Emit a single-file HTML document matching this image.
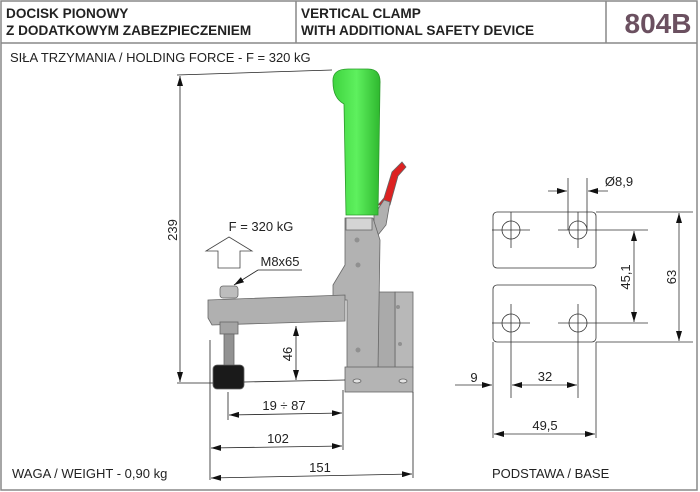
<!DOCTYPE html>
<html><head><meta charset="utf-8"><style>
body{margin:0;background:#fff;}
svg{display:block;font-family:"Liberation Sans",sans-serif;}
</style></head><body>
<svg width="700" height="492" viewBox="0 0 700 492">
<defs>
<marker id="a" viewBox="0 0 10 6" refX="10" refY="3" markerWidth="10" markerHeight="6" orient="auto-start-reverse" markerUnits="userSpaceOnUse"><path d="M0,0 L10,3 L0,6 Z" fill="#111"/></marker>
<linearGradient id="g" x1="0" x2="1"><stop offset="0" stop-color="#3fd43f"/><stop offset="0.5" stop-color="#5ef05e"/><stop offset="1" stop-color="#2fb82f"/></linearGradient>
</defs>
<rect x="1" y="1" width="696" height="489" fill="none" stroke="#888" stroke-width="1.5"/>
<line x1="1" y1="43" x2="697" y2="43" stroke="#888" stroke-width="1.5"/>
<line x1="296" y1="1" x2="296" y2="43" stroke="#888" stroke-width="1.5"/>
<line x1="606" y1="1" x2="606" y2="43" stroke="#888" stroke-width="1.5"/>
<g font-weight="bold" font-size="13.6" fill="#222">
<text x="6" y="18">DOCISK PIONOWY</text>
<text x="6" y="35">Z DODATKOWYM ZABEZPIECZENIEM</text>
<text x="301" y="18">VERTICAL CLAMP</text>
<text x="301" y="35">WITH ADDITIONAL SAFETY DEVICE</text>
</g>
<text x="658" y="33" font-size="28" font-weight="bold" fill="#6b5060" text-anchor="middle">804B</text>
<g font-size="13" fill="#222">
<text x="10" y="62">SIŁA TRZYMANIA / HOLDING FORCE - F = 320 kG</text>
<text x="12" y="478">WAGA / WEIGHT - 0,90 kg</text>
<text x="492" y="478">PODSTAWA / BASE</text>
</g>

<!-- clamp -->
<g stroke="#666" stroke-width="0.8">
<path d="M378,205 L384,198 L392,172 L402,162 L406,167 L398,176 L390,205 Z" fill="#d22"/>
<path d="M374,215 L384,200 L390,202 L386,225 L374,240 Z" fill="#b0b0b0"/>
<rect x="395" y="292" width="18" height="76" fill="#b8b8b8"/>
<path d="M378,292 L395,292 L395,368 L378,368Z" fill="#aaa"/>
<path d="M345,218 L373,218 L380,240 L378,368 L347,368 L347,300 L333,300 L333,285 L345,265 Z" fill="#b2b2b2"/>
<rect x="346" y="218" width="26" height="12" fill="#d4d4d4"/>
<rect x="345" y="367" width="68" height="25" fill="#b4b4b4"/>
<ellipse cx="357" cy="381" rx="4" ry="2" fill="#e4e4e4"/>
<ellipse cx="403" cy="381" rx="4" ry="2" fill="#e4e4e4"/>
<path d="M208,300 L345,295 L345,321 L212,325 L208,318 Z" fill="#b0b0b0"/>
<rect x="220" y="286" width="18" height="12" rx="3" fill="#bdbdbd"/>
<rect x="220" y="322" width="18" height="12" fill="#a4a4a4"/>
<rect x="224" y="334" width="10" height="32" fill="#929292"/>
<rect x="213" y="365" width="31" height="24" rx="4" fill="#1a1a1a"/>
<path d="M333,82 Q332,69 348,69 L368,69 Q381,69 380,84 L378,215 L346,215 L344,104 Q333,98 333,82 Z" fill="url(#g)" stroke="#2a9a2a"/>
</g>
<g fill="#909090"><circle cx="357" cy="240" r="2.5"/><circle cx="358" cy="265" r="2.5"/><circle cx="358" cy="350" r="2.5"/><circle cx="398" cy="307" r="2"/><circle cx="400" cy="344" r="2"/></g>

<!-- dims -->
<g stroke="#222" stroke-width="0.8" fill="none">
<line x1="177" y1="75" x2="332" y2="70"/>
<line x1="177" y1="383" x2="213" y2="383"/>
<line x1="180" y1="76" x2="180" y2="382" marker-start="url(#a)" marker-end="url(#a)"/>
<line x1="244" y1="382" x2="345" y2="380"/>
<line x1="296" y1="326" x2="296" y2="380" marker-start="url(#a)" marker-end="url(#a)"/>
<line x1="210" y1="340" x2="210" y2="480"/>
<line x1="228" y1="392" x2="228" y2="420"/>
<line x1="343" y1="390" x2="343" y2="450"/>
<line x1="413" y1="392" x2="413" y2="478"/>
<line x1="229" y1="415" x2="342" y2="413" marker-start="url(#a)" marker-end="url(#a)"/>
<line x1="211" y1="448" x2="342" y2="446" marker-start="url(#a)" marker-end="url(#a)"/>
<line x1="211" y1="478" x2="412" y2="474" marker-start="url(#a)" marker-end="url(#a)"/>
<path d="M218,268 L240,268 L240,251 L252,251 L229,237 L206,251 L218,251 Z" stroke="#444"/>
<line x1="258" y1="270" x2="302" y2="270"/>
<line x1="258" y1="270" x2="234" y2="285" marker-end="url(#a)"/>
</g>
<g font-size="13" fill="#222" text-anchor="middle">
<text transform="translate(177,230) rotate(-90)">239</text>
<text transform="translate(292,354) rotate(-90)">46</text>
<text x="284" y="410">19 ÷ 87</text>
<text x="278" y="443">102</text>
<text x="320" y="472">151</text>
<text x="261" y="231">F = 320 kG</text>
<text x="280" y="266">M8x65</text>
</g>

<!-- base -->
<g stroke="#333" stroke-width="0.8" fill="none">
<rect x="493" y="212" width="103" height="56" rx="4"/>
<rect x="493" y="285" width="103" height="57" rx="4"/>
<circle cx="511" cy="230" r="9"/><circle cx="578" cy="230" r="9"/>
<circle cx="511" cy="323" r="9"/><circle cx="578" cy="323" r="9"/>
<path d="M492,230 H530 M558,230 H648 M511,212 V248 M578,212 V248 M492,323 H530 M558,323 H648 M511,304 V398 M578,304 V398"/>
<path d="M568,178 V230 M587,178 V230 M596,212 H693 M596,342 H693 M493,342 V438 M596,342 V438"/>
<line x1="548" y1="191" x2="567" y2="191" marker-end="url(#a)"/>
<line x1="608" y1="191" x2="588" y2="191" marker-end="url(#a)"/>
<line x1="679" y1="213" x2="679" y2="341" marker-start="url(#a)" marker-end="url(#a)"/>
<line x1="634" y1="231" x2="634" y2="322" marker-start="url(#a)" marker-end="url(#a)"/>
<line x1="455" y1="385" x2="492" y2="385" marker-end="url(#a)"/>
<line x1="512" y1="385" x2="577" y2="385" marker-start="url(#a)" marker-end="url(#a)"/>
<line x1="494" y1="434" x2="595" y2="434" marker-start="url(#a)" marker-end="url(#a)"/>
</g>
<g font-size="13" fill="#222" text-anchor="middle">
<text x="619" y="186">Ø8,9</text>
<text transform="translate(676,277) rotate(-90)">63</text>
<text transform="translate(630,277) rotate(-90)">45,1</text>
<text x="474" y="382">9</text>
<text x="545" y="381">32</text>
<text x="545" y="430">49,5</text>
</g>
</svg>
</body></html>
